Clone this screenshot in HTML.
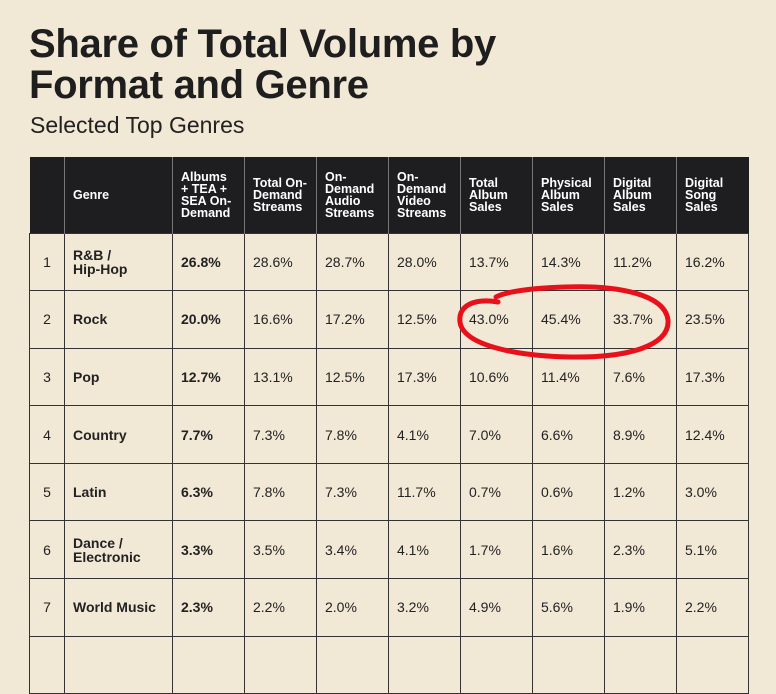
<!DOCTYPE html>
<html><head><meta charset="utf-8"><style>
body{margin:0;width:776px;height:638px;background:#f2e8d6;overflow:hidden;position:relative;font-family:"Liberation Sans",sans-serif;color:#222}
.t{position:absolute;left:29px;top:24px;font-size:40px;font-weight:bold;line-height:41px;letter-spacing:-0.3px;color:#1e1e1e}
.s{position:absolute;left:30px;top:112px;font-size:23px;color:#222}
table{position:absolute;left:29px;top:157px;border-collapse:collapse;table-layout:fixed}
th{background:#1e1e20;color:#fff;font-size:12.5px;font-weight:bold;text-align:left;line-height:12px;padding:0 0 0 8px;height:76px;border-left:1px solid #777;vertical-align:middle;box-sizing:border-box}
td{border:1px solid #333;height:57.6px;padding:0 0 0 8px;font-size:14px;box-sizing:border-box}
td.g{font-weight:bold;font-size:14px;line-height:14px}
td.b{font-weight:bold}
td.n{text-align:center;padding:0}
</style></head><body>
<div class="t">Share of Total Volume by<br>Format and Genre</div>
<div class="s">Selected Top Genres</div>
<table>
<colgroup><col style="width:35px"><col style="width:108px"><col style="width:72px"><col style="width:72px"><col style="width:72px"><col style="width:72px"><col style="width:72px"><col style="width:72px"><col style="width:72px"><col style="width:72px"></colgroup>
<tr><th style="border-left:none"></th><th>Genre</th><th>Albums<br>+ TEA +<br>SEA On-<br>Demand</th><th>Total On-<br>Demand<br>Streams</th><th>On-<br>Demand<br>Audio<br>Streams</th><th>On-<br>Demand<br>Video<br>Streams</th><th>Total<br>Album<br>Sales</th><th>Physical<br>Album<br>Sales</th><th>Digital<br>Album<br>Sales</th><th>Digital<br>Song<br>Sales</th></tr>
<tr><td class="n">1</td><td class="g">R&amp;B /<br>Hip-Hop</td><td class="b">26.8%</td><td>28.6%</td><td>28.7%</td><td>28.0%</td><td>13.7%</td><td>14.3%</td><td>11.2%</td><td>16.2%</td></tr>
<tr><td class="n">2</td><td class="g">Rock</td><td class="b">20.0%</td><td>16.6%</td><td>17.2%</td><td>12.5%</td><td>43.0%</td><td>45.4%</td><td>33.7%</td><td>23.5%</td></tr>
<tr><td class="n">3</td><td class="g">Pop</td><td class="b">12.7%</td><td>13.1%</td><td>12.5%</td><td>17.3%</td><td>10.6%</td><td>11.4%</td><td>7.6%</td><td>17.3%</td></tr>
<tr><td class="n">4</td><td class="g">Country</td><td class="b">7.7%</td><td>7.3%</td><td>7.8%</td><td>4.1%</td><td>7.0%</td><td>6.6%</td><td>8.9%</td><td>12.4%</td></tr>
<tr><td class="n">5</td><td class="g">Latin</td><td class="b">6.3%</td><td>7.8%</td><td>7.3%</td><td>11.7%</td><td>0.7%</td><td>0.6%</td><td>1.2%</td><td>3.0%</td></tr>
<tr><td class="n">6</td><td class="g">Dance /<br>Electronic</td><td class="b">3.3%</td><td>3.5%</td><td>3.4%</td><td>4.1%</td><td>1.7%</td><td>1.6%</td><td>2.3%</td><td>5.1%</td></tr>
<tr><td class="n">7</td><td class="g">World Music</td><td class="b">2.3%</td><td>2.2%</td><td>2.0%</td><td>3.2%</td><td>4.9%</td><td>5.6%</td><td>1.9%</td><td>2.2%</td></tr>
<tr><td class="n"></td><td></td><td></td><td></td><td></td><td></td><td></td><td></td><td></td><td></td></tr>
</table>
<svg style="position:absolute;left:0;top:0" width="776" height="638"><path d="M498 302 C475 298 458 305 460 322 C463 345 515 356 570 357 C630 358 670 345 668 320 C665 295 620 285 565 287 C530 288 505 292 496 297" fill="none" stroke="#e8101a" stroke-width="5" stroke-linecap="round"/></svg>
</body></html>
